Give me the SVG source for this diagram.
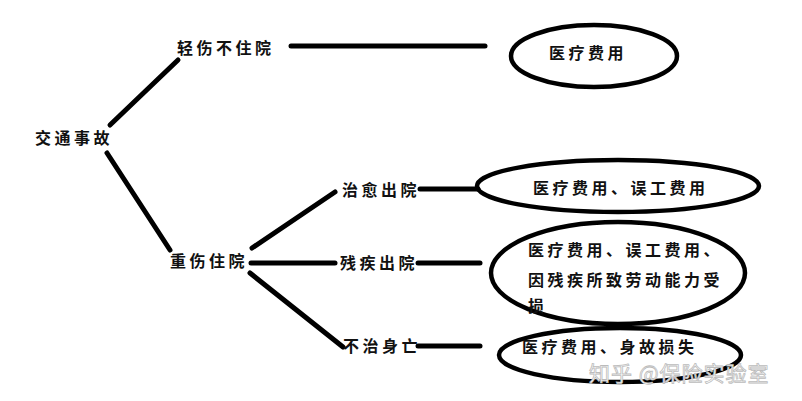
<svg xmlns="http://www.w3.org/2000/svg" width="802" height="401" viewBox="0 0 802 401">
<style>
.t{font-family:"Noto Sans CJK SC","Noto Sans CJK JP",sans-serif;font-size:16px;font-weight:bold;fill:#111;letter-spacing:3.5px}
.e{fill:none;stroke:#000;stroke-width:4.5}
.c line{stroke:#000;stroke-width:5;stroke-linecap:round}
.w{font-family:"Noto Sans CJK SC",sans-serif;font-size:21px;fill:#fff;stroke:#bbb;stroke-width:0.8;letter-spacing:1px}
</style>
<rect width="802" height="401" fill="#fff"/>
<g class="c" id="connectors">
<line x1="110" y1="125" x2="178" y2="60"/>
<line x1="107" y1="153" x2="170" y2="250"/>
<line x1="291" y1="46" x2="485" y2="46"/>
<line x1="252" y1="248" x2="335" y2="192"/>
<line x1="251" y1="263" x2="335" y2="263"/>
<line x1="250" y1="273" x2="343" y2="347"/>
<line x1="420" y1="189" x2="478" y2="189"/>
<line x1="418" y1="263" x2="480" y2="263"/>
<line x1="418" y1="346" x2="480" y2="346"/>
</g>
<g id="n-root"><text class="t" x="35" y="144">交通事故</text></g>
<g id="n-light"><text class="t" x="177" y="54">轻伤不住院</text></g>
<g id="n-heavy"><text class="t" x="170" y="267">重伤住院</text></g>
<g id="n-cured"><text class="t" x="342" y="196">治愈出院</text></g>
<g id="n-disabled"><text class="t" x="340" y="269">残疾出院</text></g>
<g id="n-death"><text class="t" x="343" y="352">不治身亡</text></g>
<g id="r1"><ellipse class="e" cx="594" cy="56" rx="83" ry="31"/><text class="t" x="549" y="59">医疗费用</text></g>
<g id="r2"><ellipse class="e" cx="618" cy="186" rx="141" ry="26"/><text class="t" x="533" y="194">医疗费用、误工费用</text></g>
<g id="r3"><ellipse class="e" cx="618" cy="273" rx="127" ry="51"/>
<text class="t" x="528" y="256">医疗费用、误工费用、</text>
<text class="t" x="528" y="286">因残疾所致劳动能力受</text>
<text class="t" x="528" y="312">损</text></g>
<g id="r4"><ellipse class="e" cx="620" cy="355" rx="121" ry="27"/><text class="t" x="522" y="353">医疗费用、身故损失</text></g>
<text class="w" x="589" y="381">知乎 @保险实验室</text>
</svg>
